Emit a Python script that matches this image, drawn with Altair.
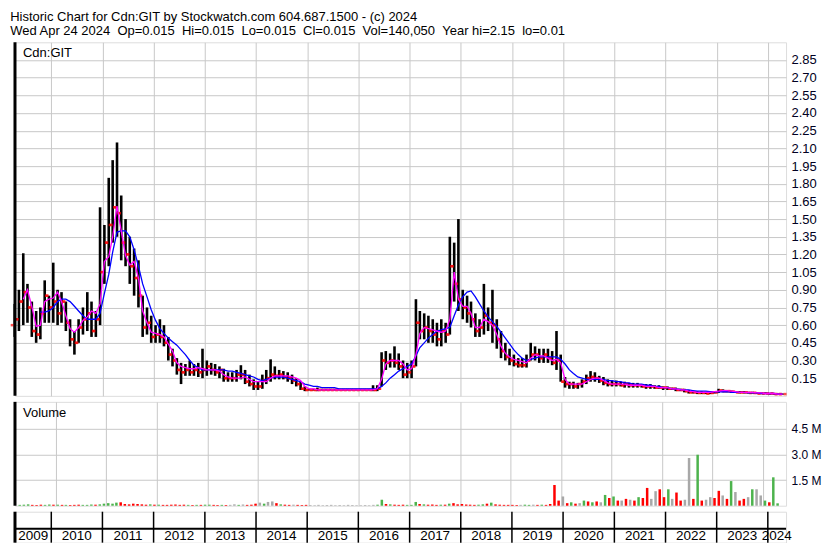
import altair as alt
import pandas as pd

FONT = "Liberation Sans"

# ---- monthly data, Apr 2009 .. Apr 2024 (181 months) ----
high = [
    0.78, 0.90, 1.21, 0.95, 0.80, 0.72, 0.75, 0.98, 0.85,
    1.13, 0.90, 0.88, 0.80, 0.65, 0.55, 0.65, 0.75, 0.88, 0.80, 0.72, 1.60,
    1.45, 1.85, 2.00, 2.15, 1.70, 1.50, 1.35, 1.25, 1.15, 0.85, 0.75, 0.68,
    0.60, 0.65, 0.60, 0.50, 0.40, 0.32, 0.28, 0.27, 0.30, 0.27, 0.28, 0.40,
    0.30, 0.28, 0.27, 0.25, 0.23, 0.20, 0.20, 0.22, 0.26, 0.22, 0.18, 0.14,
    0.12, 0.18, 0.22, 0.31, 0.25, 0.22, 0.21, 0.20, 0.18, 0.15, 0.12, 0.08,
    0.06, 0.06, 0.07, 0.06, 0.06, 0.06, 0.06, 0.06, 0.06, 0.06, 0.06, 0.06,
    0.06, 0.06, 0.06, 0.09, 0.09, 0.37, 0.38, 0.36, 0.42, 0.36, 0.30, 0.28,
    0.30, 0.82, 0.72, 0.70, 0.68, 0.65, 0.62, 0.65, 0.62, 1.35, 1.30, 1.50,
    0.90, 0.85, 0.80, 0.70, 0.65, 0.95, 0.75, 0.90, 0.65, 0.55, 0.45, 0.40,
    0.35, 0.32, 0.32, 0.35, 0.45, 0.42, 0.40, 0.40, 0.40, 0.38, 0.55, 0.35,
    0.16, 0.12, 0.12, 0.11, 0.14, 0.18, 0.21, 0.20, 0.17, 0.16, 0.14, 0.13,
    0.13, 0.12, 0.12, 0.11, 0.11, 0.11, 0.10, 0.10, 0.10, 0.09, 0.09, 0.08,
    0.08, 0.07, 0.07, 0.06, 0.06, 0.05, 0.04, 0.04, 0.04, 0.035, 0.035, 0.04,
    0.06, 0.055, 0.05, 0.045, 0.04, 0.04, 0.04, 0.035, 0.035, 0.03, 0.03, 0.03,
    0.025, 0.025, 0.02, 0.02,
]
low = [
    0.50, 0.55, 0.60, 0.62, 0.50, 0.45, 0.48, 0.62, 0.62,
    0.62, 0.60, 0.62, 0.55, 0.42, 0.35, 0.45, 0.52, 0.55, 0.50, 0.50, 0.60,
    0.95, 1.10, 1.30, 1.35, 1.15, 1.10, 0.95, 0.85, 0.75, 0.50, 0.52, 0.45,
    0.45, 0.45, 0.42, 0.30, 0.25, 0.18, 0.10, 0.17, 0.17, 0.17, 0.16, 0.15,
    0.17, 0.18, 0.17, 0.15, 0.12, 0.12, 0.12, 0.12, 0.14, 0.10, 0.08, 0.05,
    0.05, 0.06, 0.10, 0.12, 0.14, 0.14, 0.14, 0.12, 0.10, 0.08, 0.05, 0.04,
    0.045, 0.045, 0.04, 0.045, 0.045, 0.045, 0.045, 0.045, 0.045, 0.045, 0.045, 0.045,
    0.045, 0.045, 0.045, 0.04, 0.04, 0.08, 0.22, 0.24, 0.24, 0.22, 0.15, 0.15,
    0.15, 0.25, 0.48, 0.48, 0.45, 0.45, 0.42, 0.42, 0.45, 0.52, 0.80, 0.72,
    0.65, 0.62, 0.58, 0.50, 0.50, 0.52, 0.55, 0.45, 0.40, 0.32, 0.30, 0.26,
    0.25, 0.24, 0.24, 0.24, 0.30, 0.30, 0.28, 0.28, 0.28, 0.26, 0.22, 0.12,
    0.07, 0.06, 0.06, 0.06, 0.07, 0.10, 0.12, 0.12, 0.11, 0.09, 0.08, 0.08,
    0.08, 0.08, 0.07, 0.07, 0.07, 0.07, 0.07, 0.06, 0.06, 0.06, 0.06, 0.05,
    0.05, 0.05, 0.04, 0.04, 0.03, 0.02, 0.02, 0.015, 0.015, 0.015, 0.015, 0.02,
    0.025, 0.03, 0.03, 0.025, 0.025, 0.02, 0.02, 0.02, 0.02, 0.015, 0.015, 0.015,
    0.01, 0.01, 0.01, 0.01,
]
open_ = [
    0.60, 0.65, 0.80, 0.88, 0.75, 0.55, 0.52, 0.70, 0.85,
    0.75, 0.80, 0.70, 0.80, 0.62, 0.48, 0.45, 0.58, 0.65, 0.70, 0.55, 0.65,
    1.05, 1.30, 1.45, 1.60, 1.55, 1.30, 1.20, 1.10, 1.00, 0.85, 0.58, 0.62,
    0.50, 0.52, 0.50, 0.45, 0.35, 0.30, 0.22, 0.20, 0.22, 0.20, 0.22, 0.20,
    0.22, 0.25, 0.22, 0.20, 0.22, 0.15, 0.15, 0.15, 0.18, 0.18, 0.12, 0.10,
    0.08, 0.08, 0.13, 0.15, 0.18, 0.17, 0.18, 0.16, 0.15, 0.13, 0.10, 0.06,
    0.05, 0.05, 0.05, 0.05, 0.05, 0.05, 0.05, 0.05, 0.05, 0.05, 0.05, 0.05,
    0.05, 0.05, 0.05, 0.05, 0.05, 0.06, 0.30, 0.28, 0.30, 0.28, 0.25, 0.18,
    0.20, 0.25, 0.62, 0.55, 0.58, 0.55, 0.52, 0.48, 0.55, 0.52, 1.10, 0.95,
    0.82, 0.75, 0.70, 0.65, 0.55, 0.58, 0.68, 0.62, 0.60, 0.48, 0.38, 0.33,
    0.30, 0.27, 0.26, 0.26, 0.30, 0.35, 0.35, 0.32, 0.35, 0.32, 0.28, 0.30,
    0.12, 0.10, 0.10, 0.08, 0.10, 0.12, 0.15, 0.16, 0.15, 0.13, 0.11, 0.10,
    0.10, 0.10, 0.09, 0.10, 0.09, 0.09, 0.09, 0.08, 0.08, 0.08, 0.07, 0.07,
    0.07, 0.06, 0.06, 0.05, 0.05, 0.04, 0.03, 0.03, 0.025, 0.025, 0.02, 0.025,
    0.03, 0.045, 0.04, 0.04, 0.035, 0.03, 0.03, 0.03, 0.025, 0.025, 0.02, 0.02,
    0.02, 0.02, 0.015, 0.015,
]
close = [
    0.65, 0.80, 0.88, 0.75, 0.55, 0.52, 0.70, 0.85, 0.75,
    0.80, 0.70, 0.80, 0.62, 0.48, 0.45, 0.58, 0.65, 0.70, 0.55, 0.65, 1.05,
    1.30, 1.45, 1.60, 1.55, 1.30, 1.20, 1.10, 1.00, 0.85, 0.58, 0.62, 0.50,
    0.52, 0.50, 0.45, 0.35, 0.30, 0.22, 0.20, 0.22, 0.20, 0.22, 0.20, 0.22,
    0.25, 0.22, 0.20, 0.22, 0.15, 0.15, 0.15, 0.18, 0.18, 0.12, 0.10, 0.08,
    0.08, 0.13, 0.15, 0.18, 0.17, 0.18, 0.16, 0.15, 0.13, 0.10, 0.06, 0.05,
    0.05, 0.05, 0.05, 0.05, 0.05, 0.05, 0.05, 0.05, 0.05, 0.05, 0.05, 0.05,
    0.05, 0.05, 0.05, 0.05, 0.06, 0.30, 0.28, 0.30, 0.28, 0.25, 0.18, 0.20,
    0.25, 0.62, 0.55, 0.58, 0.55, 0.52, 0.48, 0.55, 0.52, 1.10, 0.95, 0.82,
    0.75, 0.70, 0.65, 0.55, 0.58, 0.68, 0.62, 0.60, 0.48, 0.38, 0.33, 0.30,
    0.27, 0.26, 0.26, 0.30, 0.35, 0.35, 0.32, 0.35, 0.32, 0.28, 0.30, 0.12,
    0.10, 0.10, 0.08, 0.10, 0.12, 0.15, 0.16, 0.15, 0.13, 0.11, 0.10, 0.10,
    0.10, 0.09, 0.10, 0.09, 0.09, 0.09, 0.08, 0.08, 0.08, 0.07, 0.07, 0.07,
    0.06, 0.06, 0.05, 0.05, 0.04, 0.03, 0.03, 0.025, 0.025, 0.02, 0.025, 0.03,
    0.045, 0.04, 0.04, 0.035, 0.03, 0.03, 0.03, 0.025, 0.025, 0.02, 0.02, 0.02,
    0.02, 0.015, 0.015, 0.015,
]
ma_fast = [
    None, None, 0.82, 0.90, 0.76, 0.59, 0.60, 0.80, 0.82,
    0.83, 0.88, 0.80, 0.68, 0.57, 0.54, 0.58, 0.64, 0.67, 0.72, 0.70, 0.78,
    1.14, 1.18, 1.35, 1.61, 1.40, 1.19, 1.11, 1.14, 1.00, 0.72, 0.62, 0.54,
    0.53, 0.52, 0.50, 0.44, 0.38, 0.28, 0.25, 0.24, 0.23, 0.23, 0.24, 0.23,
    0.22, 0.22, 0.22, 0.21, 0.18, 0.16, 0.15, 0.15, 0.15, 0.16, 0.14, 0.12,
    0.12, 0.12, 0.12, 0.15, 0.17, 0.17, 0.17, 0.17, 0.16, 0.15, 0.13, 0.08,
    0.06, 0.06, 0.05, 0.05, 0.05, 0.05, 0.05, 0.05, 0.05, 0.05, 0.05, 0.05,
    0.05, 0.05, 0.05, 0.05, 0.06, 0.14, 0.27, 0.30, 0.30, 0.30, 0.27, 0.22,
    0.23, 0.35, 0.53, 0.58, 0.57, 0.56, 0.55, 0.54, 0.55, 0.65, 1.05, 0.82,
    0.76, 0.76, 0.70, 0.58, 0.58, 0.65, 0.63, 0.60, 0.52, 0.42, 0.36, 0.33,
    0.31, 0.30, 0.29, 0.28, 0.32, 0.35, 0.34, 0.34, 0.32, 0.30, 0.31, 0.28,
    0.14, 0.10, 0.10, 0.10, 0.10, 0.12, 0.14, 0.15, 0.15, 0.13, 0.11, 0.10,
    0.10, 0.10, 0.10, 0.09, 0.09, 0.09, 0.09, 0.08, 0.08, 0.08, 0.07, 0.07,
    0.07, 0.06, 0.06, 0.05, 0.05, 0.04, 0.035, 0.03, 0.03, 0.03, 0.03, 0.035,
    0.04, 0.045, 0.045, 0.04, 0.035, 0.03, 0.03, 0.03, 0.03, 0.025, 0.025, 0.02,
    0.02, 0.02, 0.015, 0.015,
]
ma_slow = [
    None, None, None, None, None, None, 0.71, 0.71, 0.72,
    0.75, 0.80, 0.82, 0.82, 0.80, 0.76, 0.72, 0.68, 0.65, 0.65, 0.65, 0.70,
    0.87, 1.03, 1.22, 1.39, 1.40, 1.40, 1.35, 1.24, 1.10, 0.95, 0.84, 0.73,
    0.64, 0.57, 0.53, 0.49, 0.46, 0.43, 0.39, 0.35, 0.30, 0.26, 0.24, 0.22,
    0.22, 0.22, 0.22, 0.22, 0.22, 0.21, 0.21, 0.20, 0.19, 0.18, 0.17, 0.16,
    0.14, 0.13, 0.14, 0.15, 0.16, 0.16, 0.16, 0.15, 0.14, 0.13, 0.12, 0.10,
    0.09, 0.08, 0.08, 0.07, 0.07, 0.07, 0.07, 0.06, 0.06, 0.06, 0.06, 0.06,
    0.06, 0.06, 0.06, 0.06, 0.06, 0.08, 0.11, 0.15, 0.18, 0.21, 0.23, 0.25,
    0.27, 0.34, 0.41, 0.45, 0.49, 0.52, 0.55, 0.56, 0.57, 0.58, 0.68, 0.77,
    0.84, 0.88, 0.89, 0.84, 0.78, 0.72, 0.67, 0.63, 0.59, 0.54, 0.49, 0.44,
    0.39, 0.35, 0.32, 0.30, 0.31, 0.32, 0.33, 0.33, 0.33, 0.33, 0.33, 0.31,
    0.27, 0.22, 0.19, 0.16, 0.15, 0.14, 0.14, 0.14, 0.14, 0.14, 0.13, 0.13,
    0.12, 0.12, 0.11, 0.11, 0.10, 0.10, 0.10, 0.09, 0.09, 0.08, 0.08, 0.07,
    0.07, 0.06, 0.06, 0.055, 0.05, 0.05, 0.045, 0.04, 0.04, 0.04, 0.035, 0.035,
    0.035, 0.035, 0.035, 0.03, 0.03, 0.03, 0.03, 0.025, 0.025, 0.025, 0.02, 0.02,
    0.02, 0.02, 0.015, 0.015,
]
volume_m = [
    0.05, 0.06, 0.08, 0.05, 0.04, 0.06, 0.05, 0.07, 0.06,
    0.06, 0.05, 0.05, 0.04, 0.05, 0.06, 0.05, 0.05, 0.07, 0.06, 0.08, 0.12,
    0.15, 0.12, 0.18, 0.20, 0.10, 0.08, 0.12, 0.10, 0.08, 0.06, 0.08, 0.06,
    0.06, 0.05, 0.05, 0.06, 0.07, 0.05, 0.06, 0.05, 0.04, 0.05, 0.05, 0.06,
    0.06, 0.05, 0.04, 0.05, 0.04, 0.05, 0.08, 0.05, 0.07, 0.05, 0.06, 0.12,
    0.18, 0.12, 0.22, 0.25, 0.15, 0.08, 0.06, 0.05, 0.06, 0.05, 0.04, 0.05,
    0.04, 0.03, 0.05, 0.03, 0.04, 0.05, 0.03, 0.04, 0.03, 0.05, 0.04, 0.03,
    0.03, 0.04, 0.03, 0.05, 0.06, 0.35, 0.10, 0.08, 0.06, 0.05, 0.06, 0.05,
    0.05, 0.22, 0.10, 0.08, 0.06, 0.07, 0.05, 0.06, 0.06, 0.12, 0.15, 0.08,
    0.10, 0.07, 0.06, 0.05, 0.06, 0.08, 0.12, 0.18, 0.08, 0.06, 0.05, 0.05,
    0.05, 0.04, 0.05, 0.06, 0.05, 0.06, 0.05, 0.06, 0.05, 0.10, 1.21, 0.30,
    0.54, 0.15, 0.20, 0.12, 0.15, 0.30, 0.25, 0.20, 0.25, 0.20, 0.63, 0.45,
    0.54, 0.30, 0.30, 0.40, 0.35, 0.30, 0.50, 0.45, 1.04, 0.40, 0.85, 0.96,
    0.50, 0.96, 0.40, 0.77, 0.30, 0.35, 2.79, 0.40, 2.98, 0.30, 0.35, 0.50,
    0.45, 0.87, 0.60, 0.40, 1.44, 0.80, 0.30, 0.40, 0.50, 0.96, 0.96, 0.60,
    0.30, 0.20, 1.66, 0.14,
]
# u = up (green), d = down (red), n = unchanged (grey)
vol_dir = [
    "u", "u", "u", "d", "d", "d", "u", "u", "d",
    "u", "d", "u", "d", "d", "d", "u", "u", "u", "d", "u", "u",
    "u", "u", "u", "d", "d", "d", "d", "d", "d", "d", "u", "d",
    "u", "d", "d", "d", "d", "d", "d", "u", "d", "u", "d", "u",
    "u", "d", "d", "u", "d", "n", "n", "u", "n", "d", "d", "d",
    "n", "u", "n", "n", "d", "u", "d", "d", "n", "d", "d", "d",
    "n", "n", "n", "n", "n", "n", "n", "n", "n", "n", "n", "n",
    "n", "n", "n", "n", "u", "u", "d", "u", "d", "d", "d", "u",
    "u", "u", "d", "u", "d", "d", "d", "u", "d", "u", "d", "d",
    "d", "d", "d", "d", "u", "u", "d", "u", "d", "d", "d", "d",
    "d", "d", "n", "u", "u", "n", "d", "u", "d", "d", "d", "d",
    "n", "d", "u", "d", "n", "u", "d", "u", "d", "n", "u", "d",
    "u", "d", "n", "d", "n", "d", "u", "d", "d", "n", "n", "d",
    "d", "u", "n", "d", "d", "n", "n", "d", "u", "d", "n", "n",
    "d", "d", "n", "d", "u", "n", "d", "d", "n", "u", "n", "n",
    "u", "d", "u", "u",
]

year_labels = [str(y) for y in range(2009, 2025)]
year_label_dates = (["2009-08-26T00:00:00"]
                    + [f"{y}-07-02T00:00:00" for y in range(2010, 2024)]
                    + ["2024-03-05T00:00:00"])
year_starts = [f"{y}-01-01T00:00:00" for y in range(2010, 2025)]

price_ticks = [0.15, 0.30, 0.45, 0.60, 0.75, 0.90, 1.05, 1.20, 1.35, 1.50, 1.65,
               1.80, 1.95, 2.10, 2.25, 2.40, 2.55, 2.70, 2.85]
volume_ticks = [1.5, 3.0, 4.5]

title_lines = [
    "Historic Chart for Cdn:GIT by Stockwatch.com 604.687.1500 - (c) 2024",
    "Wed Apr 24 2024 \u00a0Op=0.015 \u00a0Hi=0.015 \u00a0Lo=0.015 \u00a0Cl=0.015 \u00a0Vol=140,050 \u00a0Year hi=2.15 \u00a0lo=0.01",
]

# ---- build table ----
dates = [d.strftime("%Y-%m-15T00:00:00") for d in pd.date_range("2009-04-01", "2024-04-01", freq="MS")]
df = pd.DataFrame({
    "date": dates, "high": high, "low": low, "open": open_, "close": close,
    "fast": ma_fast, "slow": ma_slow, "vol": volume_m, "dir": vol_dir,
})

W = 772
HP = 354
HV = 104
HS = 31
GRID = "#c8c8c8"

xdom = [alt.DateTime(year=2009, month=4, date=17), alt.DateTime(year=2024, month=5, date=10)]
xvals = [alt.DateTime(year=y, month=1, date=1) for y in range(2010, 2025)]
xscale = alt.Scale(domain=xdom)
xaxis = alt.Axis(values=xvals, grid=True, gridColor=GRID, gridWidth=1, labels=False,
                 ticks=False, domain=False, title=None)
X = alt.X("date:T", scale=xscale, axis=xaxis)

yaxis_p = alt.Axis(orient="right", values=price_ticks, format=".2f", grid=True, gridColor=GRID,
                   gridWidth=1, ticks=False, domain=False, title=None, labelFontSize=13,
                   labelColor="#000022", labelPadding=5, labelFont=FONT)
yscale_p = alt.Scale(domain=[0, 3.0], nice=False, zero=True)

base = alt.Chart(df)
one = pd.DataFrame({"t": ["x"]})


def left_edge():
    return alt.Chart(one).mark_rule(color="black", strokeWidth=3).encode(x=alt.value(0))


bars = base.mark_rule(color="black", strokeWidth=2.6).encode(
    x=X, y=alt.Y("low:Q", scale=yscale_p, axis=yaxis_p), y2="high:Q")
opens = base.mark_tick(color="#ff0000", orient="horizontal", size=3, thickness=2.5, xOffset=-2.5).encode(
    x=X, y=alt.Y("open:Q", scale=yscale_p, axis=yaxis_p))
closes = base.mark_tick(color="#ff0000", orient="horizontal", size=3, thickness=2.5, xOffset=2.5).encode(
    x=X, y=alt.Y("close:Q", scale=yscale_p, axis=yaxis_p))
fast = base.mark_line(color="#ff00ff", strokeWidth=1.3).encode(
    x=X, y=alt.Y("fast:Q", scale=yscale_p, axis=yaxis_p))
slow = base.mark_line(color="#0000ff", strokeWidth=1.3).encode(
    x=X, y=alt.Y("slow:Q", scale=yscale_p, axis=yaxis_p))
sym = alt.Chart(pd.DataFrame({"t": ["Cdn:GIT"]})).mark_text(
    align="left", baseline="top", fontSize=13, font=FONT, color="black").encode(
    x=alt.value(8), y=alt.value(5), text="t:N")

price = alt.layer(bars, opens, closes, slow, fast, sym, left_edge()).properties(width=W, height=HP)

yaxis_v = alt.Axis(orient="right", values=volume_ticks, labelExpr="format(datum.value, '.1f') + ' M'",
                   grid=True, gridColor=GRID, gridWidth=1, ticks=False, domain=False, title=None,
                   labelFontSize=12, labelColor="#000022", labelPadding=5, labelFont=FONT)
vbars = alt.Chart(df).mark_bar(width=2.5).encode(
    x=X,
    y=alt.Y("vol:Q", scale=alt.Scale(domain=[0, 6.07], nice=False), axis=yaxis_v),
    color=alt.Color("dir:N", scale=alt.Scale(domain=["u", "d", "n"],
                                             range=["#4db34d", "#ff0000", "#a8a8a8"]), legend=None),
)
vlabel = alt.Chart(pd.DataFrame({"t": ["Volume"]})).mark_text(
    align="left", baseline="top", fontSize=13, font=FONT, color="black").encode(
    x=alt.value(8), y=alt.value(5), text="t:N")
volume = alt.layer(vbars, vlabel, left_edge()).properties(width=W, height=HV)

XS = alt.X("d:T", scale=xscale, axis=None)
srules = alt.Chart(pd.DataFrame({"d": year_starts})).mark_rule(color="black", strokeWidth=1.5).encode(x=XS)
sline = alt.Chart(one).mark_rule(color="black", strokeWidth=2).encode(y=alt.value(17))
stext = alt.Chart(pd.DataFrame({"d": year_label_dates, "label": year_labels})).mark_text(
    fontSize=13.5, font=FONT, baseline="middle", align="center", color="black").encode(
    x=XS, y=alt.value(24.5), text="label:N")
strip = alt.layer(srules, sline, stext, left_edge()).properties(width=W, height=HS)

chart = alt.vconcat(price, volume, strip, spacing=2).resolve_scale(
    x="independent", y="independent", color="independent"
).properties(
    title=alt.Title(text=title_lines, anchor="start", fontSize=13, font=FONT, fontWeight="normal",
                    color="black", offset=2, lineHeight=14),
    padding={"left": 2, "top": 3, "right": 0, "bottom": 1},
).configure_view(stroke="black", strokeWidth=2).configure(font=FONT)

chart.save("out.html", embed_options={"renderer": "svg", "actions": False})
